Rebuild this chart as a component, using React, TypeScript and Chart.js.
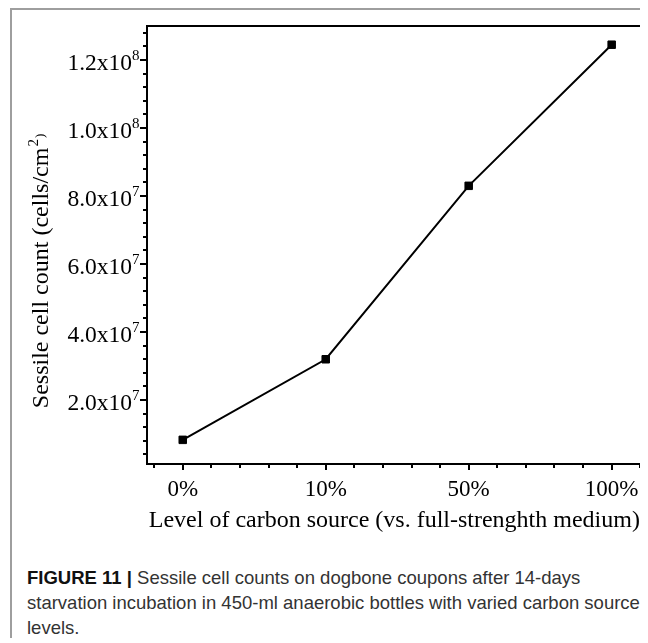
import React, { useEffect, useRef } from "react";
import { Chart, registerables } from "chart.js";

Chart.register(...registerables);

const categories = ["0%", "10%", "50%", "100%"];
const cellCounts = [8.3e6, 3.2e7, 8.3e7, 1.245e8];

const yMajorTicks = [2e7, 4e7, 6e7, 8e7, 1e8, 1.2e8];
const yTickMantissas = ["2.0", "4.0", "6.0", "8.0", "1.0", "1.2"];
const yTickExponents = ["7", "7", "7", "7", "8", "8"];
const yMinorTicks = [
  4e6, 8e6, 1.2e7, 1.6e7, 2.4e7, 2.8e7, 3.2e7, 3.6e7, 4.4e7, 4.8e7, 5.2e7, 5.6e7,
  6.4e7, 6.8e7, 7.2e7, 7.6e7, 8.4e7, 8.8e7, 9.2e7, 9.6e7, 1.04e8, 1.08e8, 1.12e8,
  1.16e8, 1.24e8, 1.28e8,
];
const xMajorTicks = [0, 1, 2, 3];
const xMinorTicks = [-0.2, 0.2, 0.4, 0.6, 0.8, 1.2, 1.4, 1.6, 1.8, 2.2, 2.4, 2.6, 2.8, 3.2];

const xTitle = "Level of carbon source (vs. full-strenghth medium)";
const yTitle = "Sessile cell count (cells/cm";

const SERIF = "'Liberation Serif', 'Times New Roman', serif";

const framePlugin = {
  id: "framePlugin",
  afterDraw(chart: any) {
    const { ctx, chartArea: a, scales } = chart;
    const xs = scales.x;
    const ys = scales.y;
    ctx.save();
    ctx.strokeStyle = "#000";
    ctx.fillStyle = "#000";
    ctx.lineWidth = 2;
    ctx.beginPath();
    yMajorTicks.forEach((v) => {
      const p = Math.round(ys.getPixelForValue(v));
      ctx.moveTo(a.left, p);
      ctx.lineTo(a.left - 7, p);
    });
    yMinorTicks.forEach((v) => {
      const p = Math.round(ys.getPixelForValue(v));
      ctx.moveTo(a.left, p);
      ctx.lineTo(a.left - 4, p);
    });
    xMajorTicks.forEach((v) => {
      const p = Math.round(xs.getPixelForValue(v));
      ctx.moveTo(p, a.bottom);
      ctx.lineTo(p, a.bottom + 6);
    });
    xMinorTicks.forEach((v) => {
      const p = Math.round(xs.getPixelForValue(v));
      ctx.moveTo(p, a.bottom);
      ctx.lineTo(p, a.bottom + 4);
    });
    ctx.stroke();
    ctx.strokeRect(a.left, a.top, a.right - a.left, a.bottom - a.top);

    // y tick labels with superscript exponents
    const right = a.left - 7.5;
    yMajorTicks.forEach((v, i) => {
      const p = ys.getPixelForValue(v);
      ctx.font = `15px ${SERIF}`;
      const expW = ctx.measureText(yTickExponents[i]).width;
      ctx.textAlign = "left";
      ctx.textBaseline = "alphabetic";
      ctx.fillText(yTickExponents[i], right - expW, p);
      ctx.font = `23.5px ${SERIF}`;
      ctx.textAlign = "right";
      ctx.fillText(yTickMantissas[i] + "x10", right - expW, p + 10);
    });

    // y axis title (rotated) with superscript
    ctx.font = `24px ${SERIF}`;
    const mainW = ctx.measureText(yTitle).width;
    ctx.font = `15px ${SERIF}`;
    const supW = ctx.measureText("2").width;
    ctx.font = `13px ${SERIF}`;
    const parW = ctx.measureText(")").width;
    const total = mainW + supW + parW + 2;
    const cy = (a.top + a.bottom) / 2 + 26;
    ctx.translate(36, cy + total / 2);
    ctx.rotate(-Math.PI / 2);
    ctx.textAlign = "left";
    ctx.textBaseline = "alphabetic";
    ctx.font = `24px ${SERIF}`;
    ctx.fillText(yTitle, 0, 0);
    ctx.font = `15px ${SERIF}`;
    ctx.fillText("2", mainW + 1, -10);
    ctx.font = `13px ${SERIF}`;
    ctx.fillText(")", mainW + supW + 2, -4);
    ctx.restore();
  },
};

export default function App() {
  const canvasRef = useRef<HTMLCanvasElement | null>(null);

  useEffect(() => {
    document.body.style.overflow = "hidden";
    const canvas = canvasRef.current;
    if (!canvas) return;
    const chart = new Chart(canvas, {
      type: "line",
      data: {
        datasets: [
          {
            data: cellCounts.map((v, i) => ({ x: i, y: v })),
            borderColor: "#000",
            borderWidth: 2,
            pointStyle: "rect",
            pointRadius: 5.3,
            pointBackgroundColor: "#000",
            pointBorderColor: "#000",
            pointBorderWidth: 1,
            tension: 0,
            fill: false,
          },
        ],
      },
      options: {
        animation: false,
        responsive: false,
        devicePixelRatio: 1,
        layout: { padding: { top: 16, right: 6, left: 0, bottom: 0 } },
        plugins: { legend: { display: false }, tooltip: { enabled: false } },
        scales: {
          x: {
            type: "linear",
            min: -0.25,
            max: 3.21,
            grid: { display: false },
            border: { display: false },
            afterBuildTicks: (scale: any) => {
              scale.ticks = xMajorTicks.map((v) => ({ value: v }));
            },
            afterFit: (scale: any) => {
              scale.height = 76;
            },
            ticks: {
              autoSkip: false,
              maxRotation: 0,
              padding: 4,
              color: "#000",
              font: { family: SERIF, size: 23 },
              callback: (v: any) => categories[v as number] ?? "",
            },
            title: {
              display: true,
              text: xTitle,
              color: "#000",
              font: { family: SERIF, size: 24 },
              padding: { top: 0, bottom: 5 },
            },
          },
          y: {
            type: "linear",
            min: 1.2e6,
            max: 1.3e8,
            grid: { display: false },
            border: { display: false },
            afterBuildTicks: (scale: any) => {
              scale.ticks = yMajorTicks.map((v) => ({ value: v }));
            },
            afterFit: (scale: any) => {
              scale.width = 135;
            },
            ticks: { display: false },
          },
        },
      },
      plugins: [framePlugin],
    });
    return () => chart.destroy();
  }, []);

  return (
    <div
      style={{
        position: "relative",
        marginLeft: 2,
        width: 636,
        height: 628,
        borderTop: "2px solid #9e9e9e",
        borderLeft: "2px solid #9e9e9e",
      }}
    >
      <canvas
        ref={canvasRef}
        width={636}
        height={530}
        style={{ position: "absolute", left: 0, top: 0, display: "block" }}
      />
      <div
        style={{
          position: "absolute",
          left: 15,
          top: 555,
          fontFamily: "'Liberation Sans', Arial, sans-serif",
          fontSize: 18.5,
          lineHeight: "25px",
          color: "#333",
          whiteSpace: "nowrap",
        }}
      >
        <div>
          <span style={{ fontWeight: "bold", color: "#111" }}>FIGURE 11 | </span>
          Sessile cell counts on dogbone coupons after 14-days
        </div>
        <div>starvation incubation in 450-ml anaerobic bottles with varied carbon source</div>
        <div>levels.</div>
      </div>
    </div>
  );
}
